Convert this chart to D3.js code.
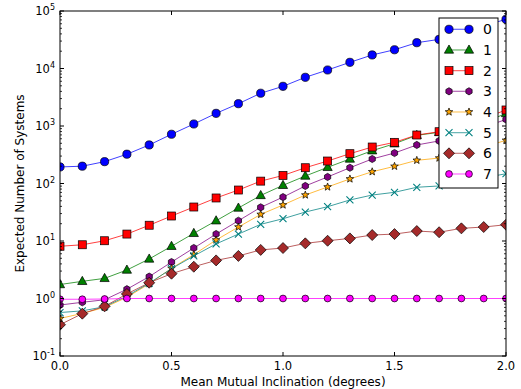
<!DOCTYPE html>
<html>
<head>
<meta charset="utf-8">
<script src="https://cdn.jsdelivr.net/npm/d3@7"></script>
<style>
  body { margin: 0; background: #fff; }
  svg { display: block; font-family: "DejaVu Sans", sans-serif; }
</style>
</head>
<body>
<div id="chart"></div>
<script>
// inclinations (degrees)
const inclinations = [0.0, 0.1, 0.2, 0.3, 0.4, 0.5, 0.6, 0.7, 0.8, 0.9, 1.0,
                      1.1, 1.2, 1.3, 1.4, 1.5, 1.6, 1.7, 1.8, 1.9, 2.0];

const seriesNames = ["0", "1", "2", "3", "4", "5", "6", "7"];

const n0 = [194, 200, 240, 323, 468, 718, 1084, 1660, 2443, 3715, 4900,
            7030, 9420, 12800, 17200, 21200, 28100, 32100, 41700, 55000, 71700];
const n1 = [1.75, 1.99, 2.24, 3.13, 4.87, 8.1, 13.6, 22.5, 37.5, 62, 93,
            135, 191, 267, 372, 492, 689, 776, 900, 1150, 1650];
const n2 = [8.1, 8.6, 10.1, 13.2, 18.8, 27.2, 39, 56, 77, 110, 138,
            188, 246, 330, 431, 520, 697, 795, 1000, 1350, 1900];
const n3 = [0.77, 0.86, 0.95, 1.45, 2.4, 4.3, 7.55, 13.2, 22.5, 38.5, 58,
            90.6, 130, 188, 267, 339, 468, 550, 720, 950, 1300];
const n4 = [0.45, 0.55, 0.7, 1.05, 1.8, 3.35, 5.8, 10.4, 17.5, 29, 42.3,
            63, 87, 120, 160, 199, 253, 277, 340, 430, 564];
const n5 = [0.57, 0.61, 0.72, 1.1, 1.85, 3.3, 5.5, 8.9, 13.2, 19.5, 24.4,
            31.9, 39.5, 51.7, 63, 70.3, 86, 90.6, 105, 125, 148];
const n6 = [0.35, 0.545, 0.73, 1.2, 1.88, 2.7, 3.57, 4.6, 5.5, 7.0, 7.55,
            9.1, 10.1, 11.1, 12.7, 13.2, 14.9, 14.2, 16.6, 17.5, 19.2];
const n7 = [0.97, 0.97, 0.98, 1, 1, 1, 1, 1, 1, 1, 1,
            1, 1, 1, 1, 1, 1, 1, 1, 1, 1];

const yTickExps = [-1, 0, 1, 2, 3, 4, 5];
const xTicks = [0.0, 0.5, 1.0, 1.5, 2.0];

const allSeries = [n0, n1, n2, n3, n4, n5, n6, n7];

// styles per series
const colors = ["#0000ff", "#008000", "#ff0000", "#800080", "#ffa500", "#008080", "#a52a2a", "#ff00ff"];
const markers = ["circle", "triangle", "square", "hexagon", "star", "cross", "diamond", "circleSmall"];

const width = 521, height = 389;
const margin = {top: 11, right: 15, bottom: 33, left: 60};

const svg = d3.select("#chart").append("svg")
  .attr("width", width)
  .attr("height", height);

const x = d3.scaleLinear().domain([0, 2]).range([margin.left, width - margin.right]);
const y = d3.scaleLog().domain([0.1, 1e5]).range([height - margin.bottom, margin.top]);

const plotW = width - margin.right - margin.left;
const plotH = height - margin.bottom - margin.top;

svg.append("defs").append("clipPath").attr("id", "clip")
  .append("rect")
  .attr("x", margin.left).attr("y", margin.top)
  .attr("width", plotW).attr("height", plotH);

// marker drawing
function drawMarker(g, type, color) {
  const stroke = "#000", sw = 0.7;
  if (type === "circle") {
    g.append("circle").attr("r", 4.1).attr("fill", color).attr("stroke", stroke).attr("stroke-width", sw);
  } else if (type === "circleSmall") {
    g.append("circle").attr("r", 3.4).attr("fill", color).attr("stroke", stroke).attr("stroke-width", sw);
  } else if (type === "triangle") {
    g.append("path").attr("d", "M0,-5L4.6,3.2L-4.6,3.2Z").attr("fill", color).attr("stroke", stroke).attr("stroke-width", sw);
  } else if (type === "square") {
    g.append("rect").attr("x", -4).attr("y", -4).attr("width", 8).attr("height", 8)
      .attr("fill", color).attr("stroke", stroke).attr("stroke-width", sw);
  } else if (type === "hexagon") {
    const pts = d3.range(6).map(i => {
      const a = Math.PI / 3 * i - Math.PI / 2;
      return [3.6 * Math.cos(a), 3.6 * Math.sin(a)];
    });
    g.append("path").attr("d", "M" + pts.join("L") + "Z").attr("fill", color).attr("stroke", stroke).attr("stroke-width", sw);
  } else if (type === "star") {
    const pts = d3.range(10).map(i => {
      const a = Math.PI / 5 * i - Math.PI / 2;
      const r = i % 2 === 0 ? 4 : 1.7;
      return [r * Math.cos(a), r * Math.sin(a)];
    });
    g.append("path").attr("d", "M" + pts.join("L") + "Z").attr("fill", color).attr("stroke", stroke).attr("stroke-width", sw);
  } else if (type === "cross") {
    g.append("path").attr("d", "M-3.5,-3.5L3.5,3.5M-3.5,3.5L3.5,-3.5")
      .attr("stroke", color).attr("stroke-width", 1.1).attr("fill", "none");
  } else if (type === "diamond") {
    g.append("path").attr("d", "M0,-5.5L5.5,0L0,5.5L-5.5,0Z").attr("fill", color).attr("stroke", stroke).attr("stroke-width", sw);
  }
}

// series
const plot = svg.append("g").attr("clip-path", "url(#clip)");
const line = d3.line().x((d, i) => x(inclinations[i])).y(d => y(d));

allSeries.forEach((vals, s) => {
  const g = plot.append("g");
  g.append("path")
    .datum(vals)
    .attr("d", line)
    .attr("fill", "none")
    .attr("stroke", colors[s])
    .attr("stroke-opacity", 0.75)
    .attr("stroke-width", 1);
  g.selectAll("g.pt")
    .data(vals)
    .enter()
    .append("g")
    .attr("class", "pt")
    .attr("transform", (d, i) => "translate(" + x(inclinations[i]) + "," + y(d) + ")")
    .each(function () { drawMarker(d3.select(this), markers[s], colors[s]); });
});

// frame
svg.append("rect")
  .attr("x", margin.left).attr("y", margin.top)
  .attr("width", plotW).attr("height", plotH)
  .attr("fill", "none").attr("stroke", "#000").attr("stroke-width", 1);

// ticks (inside, all four sides)
const tickG = svg.append("g").attr("stroke", "#000").attr("stroke-width", 1);
xTicks.forEach(t => {
  const px = x(t);
  tickG.append("line").attr("x1", px).attr("x2", px).attr("y1", height - margin.bottom).attr("y2", height - margin.bottom - 4);
  tickG.append("line").attr("x1", px).attr("x2", px).attr("y1", margin.top).attr("y2", margin.top + 4);
});
yTickExps.forEach(e => {
  const py = y(Math.pow(10, e));
  tickG.append("line").attr("x1", margin.left).attr("x2", margin.left + 4).attr("y1", py).attr("y2", py);
  tickG.append("line").attr("x1", width - margin.right).attr("x2", width - margin.right - 4).attr("y1", py).attr("y2", py);
  if (e < 5) {
    for (let k = 2; k <= 9; k++) {
      const my = y(k * Math.pow(10, e));
      tickG.append("line").attr("x1", margin.left).attr("x2", margin.left + 2).attr("y1", my).attr("y2", my).attr("stroke-width", 0.8);
      tickG.append("line").attr("x1", width - margin.right).attr("x2", width - margin.right - 2).attr("y1", my).attr("y2", my).attr("stroke-width", 0.8);
    }
  }
});

// tick labels
svg.selectAll("text.xt")
  .data(xTicks)
  .enter()
  .append("text")
  .attr("class", "xt")
  .attr("x", d => x(d))
  .attr("y", height - margin.bottom + 14)
  .attr("text-anchor", "middle")
  .attr("font-size", 11.5)
  .text(d => d.toFixed(1));

yTickExps.forEach(e => {
  const t = svg.append("text")
    .attr("x", margin.left - 5)
    .attr("y", y(Math.pow(10, e)) + 4)
    .attr("text-anchor", "end")
    .attr("font-size", 11.5);
  t.append("tspan").text("10");
  t.append("tspan").attr("dy", -5).attr("font-size", 8).text(e);
});

// axis labels
svg.append("text")
  .attr("x", margin.left + plotW / 2)
  .attr("y", height - 3)
  .attr("text-anchor", "middle")
  .attr("font-size", 12)
  .text("Mean Mutual Inclination (degrees)");

svg.append("text")
  .attr("transform", "translate(24," + (margin.top + plotH / 2) + ") rotate(-90)")
  .attr("text-anchor", "middle")
  .attr("font-size", 12)
  .text("Expected Number of Systems");

// legend
const legend = svg.append("g");
legend.append("rect")
  .attr("x", 439).attr("y", 18)
  .attr("width", 59).attr("height", 170)
  .attr("fill", "#fff").attr("stroke", "#000").attr("stroke-width", 1);

seriesNames.forEach((name, s) => {
  const ly = 29.3 + s * 20.67;
  const row = legend.append("g");
  row.append("line")
    .attr("x1", 449).attr("x2", 469).attr("y1", ly).attr("y2", ly)
    .attr("stroke", colors[s]).attr("stroke-opacity", 0.6).attr("stroke-width", 1.2);
  [449, 469].forEach(mx => {
    const mg = row.append("g").attr("transform", "translate(" + mx + "," + ly + ")");
    drawMarker(mg, markers[s], colors[s]);
  });
  row.append("text")
    .attr("x", 483)
    .attr("y", ly + 5)
    .attr("font-size", 14)
    .text(name);
});
</script>
</body>
</html>
